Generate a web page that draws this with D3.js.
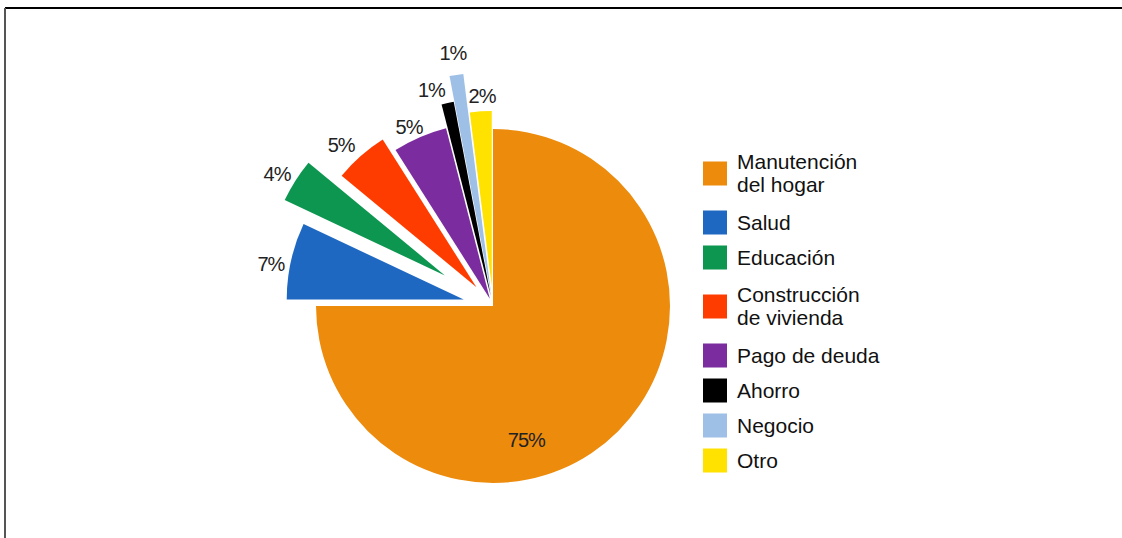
<!DOCTYPE html>
<html>
<head>
<meta charset="utf-8">
<script src="https://cdn.jsdelivr.net/npm/d3@7"></script>
<style>
  body { margin: 0; background: #fff; }
  svg text { font-family: "Liberation Sans", Arial, sans-serif; }
</style>
</head>
<body>
<svg id="chart" width="1122" height="538"></svg>
<script>
// categories and shares (%)
const categories = ["Manutención del hogar", "Salud", "Educación", "Construcción de vivienda",
                    "Pago de deuda", "Ahorro", "Negocio", "Otro"];
const shares = [75, 7, 4, 5, 5, 1, 1, 2];
const colors = ["#ec8b0c", "#1f68c2", "#0c9650", "#ff3c00", "#7b2d9f", "#000000", "#9ec0e6", "#ffe200"];

// per-slice look (explode distance, outer radius, label radius, label angle shift in deg)
const explode = [0, 30, 57, 25, 8, 10, 12, 20];
const outer = [177, 177, 177, 175, 176, 198, 222, 175];
const labelR = [138, 226, 253, 221, 198, 221, 256, 210];
const labelShift = [31, -2, -1, -2, -1.7, 0, 0, 0.6];
const labelAnchor = ["middle", "middle", "middle", "middle", "middle", "end", "middle", "middle"];

const svg = d3.select("#chart");
const cx = 493, cy = 306;

// frame
svg.append("line").attr("x1", 5).attr("x2", 1122).attr("y1", 8).attr("y2", 8)
    .attr("stroke", "#000").attr("stroke-width", 2);
svg.append("line").attr("x1", 5).attr("x2", 5).attr("y1", 8).attr("y2", 538)
    .attr("stroke", "#555").attr("stroke-width", 2);

const data = categories.map((c, i) => ({ cat: c, value: shares[i], i }));
const pie = d3.pie().sort(null).value(d => d.value).startAngle(0).endAngle(2 * Math.PI);
const arcs = pie(data);

const arc = d3.arc().innerRadius(0);

const g = svg.append("g").attr("transform", `translate(${cx},${cy})`);

g.selectAll("path.slice")
    .data(arcs)
    .enter().append("path")
    .attr("class", "slice")
    .attr("fill", d => colors[d.data.i])
    .attr("transform", d => {
        const mid = (d.startAngle + d.endAngle) / 2;
        const e = explode[d.data.i];
        return `translate(${e * Math.sin(mid)},${-e * Math.cos(mid)})`;
    })
    .attr("d", d => arc.outerRadius(outer[d.data.i])(d));

g.selectAll("text.pct")
    .data(arcs)
    .enter().append("text")
    .attr("class", "pct")
    .attr("x", d => {
        const a = (d.startAngle + d.endAngle) / 2 + labelShift[d.data.i] * Math.PI / 180;
        return labelR[d.data.i] * Math.sin(a);
    })
    .attr("y", d => {
        const a = (d.startAngle + d.endAngle) / 2 + labelShift[d.data.i] * Math.PI / 180;
        return -labelR[d.data.i] * Math.cos(a);
    })
    .attr("dy", "0.35em")
    .attr("text-anchor", d => labelAnchor[d.data.i])
    .attr("font-size", "20px")
    .attr("letter-spacing", "-1px")
    .attr("fill", "#222")
    .text(d => d.value + "%");

// legend
const legendLines = [["Manutención", "del hogar"], ["Salud"], ["Educación"], ["Construcción", "de vivienda"],
                     ["Pago de deuda"], ["Ahorro"], ["Negocio"], ["Otro"]];
const lineH = 23;
let yTop = 142;
const legend = svg.append("g");
legendLines.forEach((lines, i) => {
    const h = lines.length > 1 ? 63 : 35;
    const yc = yTop + h / 2;
    const item = legend.append("g");
    item.append("rect")
        .attr("x", 703).attr("y", yc - 12)
        .attr("width", 24).attr("height", 24)
        .attr("fill", colors[i]);
    item.append("text")
        .attr("x", 737)
        .attr("y", yc - (lines.length - 1) * lineH / 2)
        .attr("dy", "0.35em")
        .attr("font-size", "21px")
        .attr("fill", "#111")
        .selectAll("tspan")
        .data(lines)
        .enter().append("tspan")
        .attr("x", 737)
        .attr("dy", (d, k) => k === 0 ? "0.35em" : lineH)
        .text(d => d);
    yTop += h;
});
</script>
</body>
</html>
